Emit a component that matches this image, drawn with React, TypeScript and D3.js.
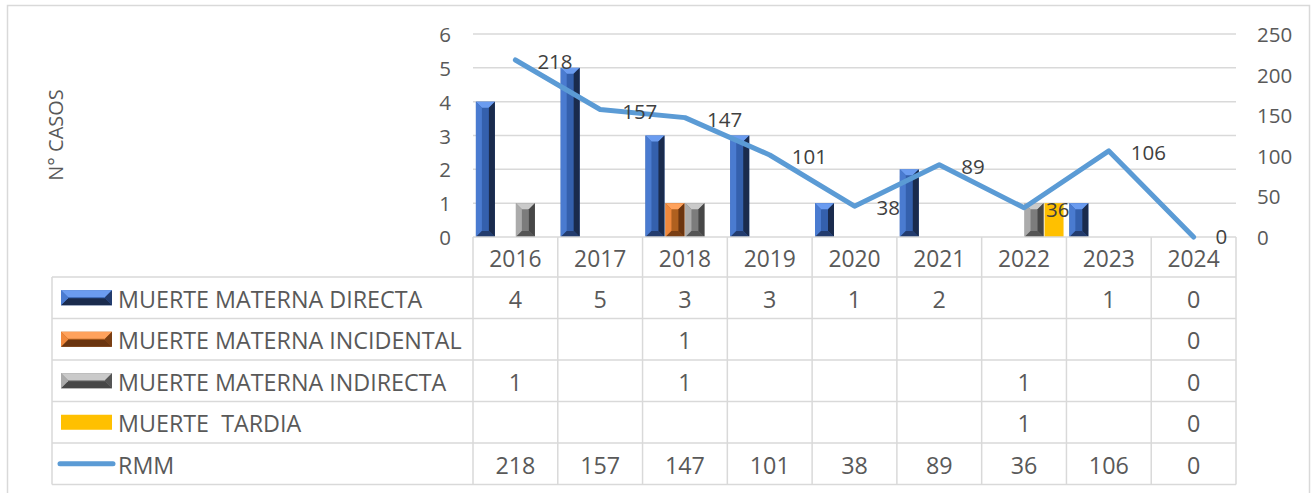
import React from 'react';
import * as d3 from 'd3';

const years = ['2016', '2017', '2018', '2019', '2020', '2021', '2022', '2023', '2024'];
const directa = [4, 5, 3, 3, 1, 2, null, 1, 0];
const incidental = [null, null, 1, null, null, null, null, null, 0];
const indirecta = [1, null, 1, null, null, null, 1, null, 0];
const tardia = [null, null, null, null, null, null, 1, null, 0];
const rmm = [218, 157, 147, 101, 38, 89, 36, 106, 0];
const leftTicks = [0, 1, 2, 3, 4, 5, 6];
const rightTicks = [0, 50, 100, 150, 200, 250];
const seriesNames = ['MUERTE MATERNA DIRECTA', 'MUERTE MATERNA INCIDENTAL', 'MUERTE MATERNA INDIRECTA', 'MUERTE  TARDIA'];
const lineName = 'RMM';
const axisTitle = 'N° CASOS';

type Pal = { top: string; left: string; face: string; right: string; bottom: string; flat?: boolean };
const palettes: Pal[] = [
  { top: '#6b9cf0', left: '#4a7bd0', face: '#3460ad', right: '#1a2b4d', bottom: '#233c6e' },
  { top: '#ffa25c', left: '#f0883c', face: '#b0601f', right: '#6b3510', bottom: '#7a3f14' },
  { top: '#cacaca', left: '#ababab', face: '#7c7c7c', right: '#474747', bottom: '#555555' },
  { top: '#ffc000', left: '#ffc000', face: '#ffc000', right: '#ffc000', bottom: '#ffc000', flat: true },
];

const FONT = "'Open Sans', sans-serif";
const TXT = '#595959';
const GRID = '#d9d9d9';

function Bevel({ x, y, w, h, p, d }: { x: number; y: number; w: number; h: number; p: Pal; d: number }) {
  if (p.flat) return <rect x={x} y={y} width={w} height={h} fill={p.face} />;
  const dx = Math.min(d, w / 2);
  const dy = Math.min(d, h / 2);
  const pts = (a: number[][]) => a.map((q) => q.join(',')).join(' ');
  return (
    <g>
      <rect x={x} y={y} width={w} height={h} fill={p.face} />
      <polygon points={pts([[x, y], [x + w, y], [x + w - dx, y + dy], [x + dx, y + dy]])} fill={p.top} />
      <polygon points={pts([[x, y], [x + dx, y + dy], [x + dx, y + h - dy], [x, y + h]])} fill={p.left} />
      <polygon points={pts([[x + w, y], [x + w, y + h], [x + w - dx, y + h - dy], [x + w - dx, y + dy]])} fill={p.right} />
      <polygon points={pts([[x, y + h], [x + dx, y + h - dy], [x + w - dx, y + h - dy], [x + w, y + h]])} fill={p.bottom} />
    </g>
  );
}

export default function App() {
  const W = 1314, H = 493;
  const plotL = 473, plotR = 1236, plotT = 34, plotB = 237;
  const x = d3.scaleBand<string>().domain(years).range([plotL, plotR]).padding(0);
  const yL = d3.scaleLinear().domain([0, 6]).range([plotB, plotT]);
  const yR = d3.scaleLinear().domain([0, 250]).range([plotB, plotT]);
  const keys = ['0', '1', '2', '3'];
  const sub = d3.scaleBand<string>().domain(keys).range([0, x.bandwidth()]).paddingInner(0).paddingOuter(0.12);
  const allSeries = [directa, incidental, indirecta, tardia];
  const cx = (yr: string) => (x(yr) as number) + x.bandwidth() / 2;

  const line = d3.line<number>().x((_, i) => cx(years[i])).y((v) => yR(v));

  const headerB = 277;
  const rowH = 41.5;
  const tableL = 52;
  const rowYs = d3.range(6).map((i) => headerB + i * rowH);
  const colXs = years.map((yr) => x(yr) as number).concat([plotR]);

  const tableRows = [...allSeries, rmm];
  const TFS = 23.3;

  return (
    <svg width={W} height={H} style={{ position: 'absolute', left: 0, top: 0, background: '#fff' }} fontFamily={FONT}>
      <rect x={0} y={0} width={W} height={H} fill="#fff" />
      <rect x={7.5} y={5.5} width={1302} height={H + 10} fill="none" stroke={GRID} strokeWidth={1.5} />

      {leftTicks.slice(1).map((t) => (
        <line key={t} x1={plotL} x2={plotR} y1={yL(t)} y2={yL(t)} stroke={GRID} strokeWidth={1.5} />
      ))}

      {leftTicks.map((t) => (
        <text key={t} x={451} y={yL(t)} textAnchor="end" dominantBaseline="central" fontSize={20.5} fill={TXT}>{t}</text>
      ))}
      {rightTicks.map((t) => (
        <text key={t} x={1257} y={yR(t)} textAnchor="start" dominantBaseline="central" fontSize={20.5} fill={TXT}>{t}</text>
      ))}
      <text transform="translate(55,135) rotate(-90)" textAnchor="middle" dominantBaseline="central" fontSize={20} fill={TXT}>{axisTitle}</text>

      {allSeries.map((s, si) =>
        s.map((v, i) => {
          if (v == null || v <= 0) return null;
          const bx = (x(years[i]) as number) + (sub(keys[si]) as number);
          const by = yL(v);
          return <Bevel key={`${si}-${i}`} x={bx + 0.5} y={by} w={sub.bandwidth() - 1} h={plotB - by} p={palettes[si]} d={6} />;
        })
      )}

      <line x1={plotL} x2={plotR} y1={plotB} y2={plotB} stroke={GRID} strokeWidth={1.5} />
      {rowYs.map((y, i) => (
        <line key={i} x1={tableL} x2={plotR} y1={y} y2={y} stroke={GRID} strokeWidth={1.5} />
      ))}
      <line x1={tableL} x2={tableL} y1={headerB} y2={rowYs[5]} stroke={GRID} strokeWidth={1.5} />
      {colXs.map((cxv, i) => (
        <line key={i} x1={cxv} x2={cxv} y1={plotB} y2={rowYs[5]} stroke={GRID} strokeWidth={1.5} />
      ))}

      {years.map((yr) => (
        <text key={yr} x={cx(yr)} y={(plotB + headerB) / 2 + 1} textAnchor="middle" dominantBaseline="central" fontSize={22.8} fill={TXT}>{yr}</text>
      ))}

      {seriesNames.map((n, i) => {
        const yc = rowYs[i] + rowH / 2;
        const p = palettes[i];
        const sx = 61, sw = 51, sh = 15, sy = yc - sh / 2;
        return (
          <g key={n}>
            {p.flat ? (
              <rect x={sx} y={sy} width={sw} height={sh} fill={p.face} />
            ) : (
              <g>
                <rect x={sx} y={sy} width={sw} height={sh} fill={p.face} />
                <polygon points={`${sx},${sy} ${sx + sw},${sy} ${sx + sw - 7},${sy + 7} ${sx + 7},${sy + 7}`} fill={p.top} />
                <polygon points={`${sx},${sy + sh} ${sx + 7},${sy + sh - 7} ${sx + sw - 7},${sy + sh - 7} ${sx + sw},${sy + sh}`} fill={p.right} />
                <polygon points={`${sx},${sy} ${sx + 7},${sy + 7} ${sx + 7},${sy + sh - 7} ${sx},${sy + sh}`} fill={p.left} />
                <polygon points={`${sx + sw},${sy} ${sx + sw - 7},${sy + 7} ${sx + sw - 7},${sy + sh - 7} ${sx + sw},${sy + sh}`} fill={p.bottom} />
              </g>
            )}
            <text x={118} y={yc + 1} dominantBaseline="central" fontSize={TFS} fill={TXT} style={{ whiteSpace: 'pre' }}>{n}</text>
          </g>
        );
      })}
      <line x1={60} x2={113} y1={rowYs[4] + rowH / 2} y2={rowYs[4] + rowH / 2} stroke="#5b9bd5" strokeWidth={5} strokeLinecap="round" />
      <text x={118} y={rowYs[4] + rowH / 2 + 1} dominantBaseline="central" fontSize={TFS} fill={TXT}>{lineName}</text>

      {tableRows.map((s, ri) =>
        s.map((v, i) =>
          v == null ? null : (
            <text key={`${ri}-${i}`} x={cx(years[i])} y={rowYs[ri] + rowH / 2 + 1} textAnchor="middle" dominantBaseline="central" fontSize={TFS} fill={TXT}>{v}</text>
          )
        )
      )}

      <path d={line(rmm) as string} fill="none" stroke="#5b9bd5" strokeWidth={5} strokeLinejoin="round" strokeLinecap="round" />
      {rmm.map((v, i) => (
        <text key={i} x={cx(years[i]) + 22} y={yR(v) + (v === 0 ? -1 : 1)} dominantBaseline="central" fontSize={20.5} fill="#404040">{v}</text>
      ))}
    </svg>
  );
}
